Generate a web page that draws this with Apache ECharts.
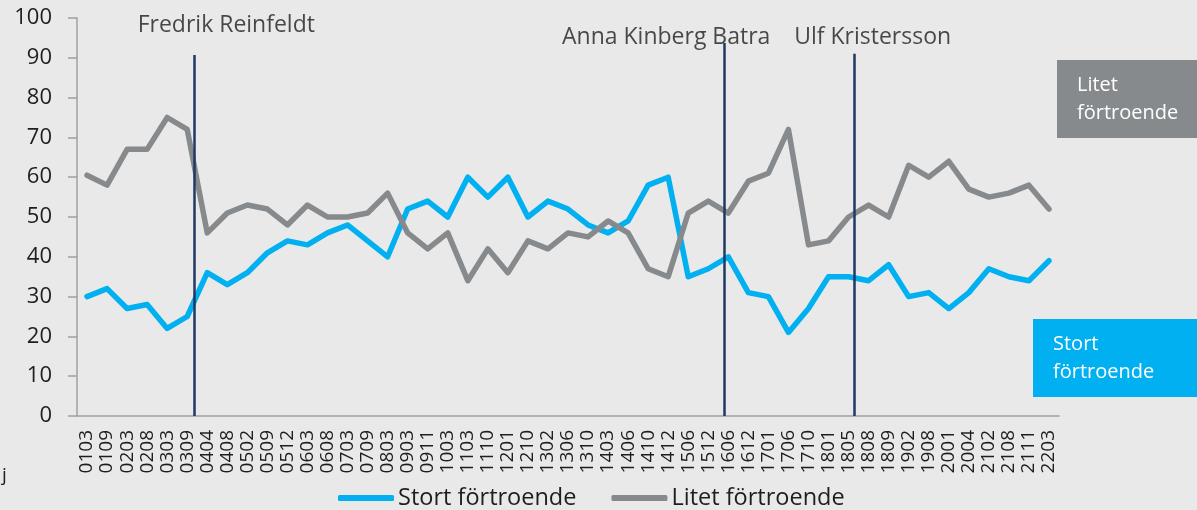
<!DOCTYPE html>
<html>
<head>
<meta charset="utf-8">
<script src="https://cdn.jsdelivr.net/npm/echarts@6/dist/echarts.min.js"></script>
<style>
  html, body { margin: 0; padding: 0; background: #e9e9e9; }
  #chart { width: 1197px; height: 510px; }
</style>
</head>
<body>
<div id="chart"></div>
<script>
// mätperioder (ÅÅMM)
const categories = ["0103","0109","0203","0208","0303","0309","0404","0408","0502","0509","0512","0603","0608","0703","0709","0803","0903","0911","1003","1103","1110","1201","1210","1302","1306","1310","1403","1406","1410","1412","1506","1512","1606","1612","1701","1706","1710","1801","1805","1808","1809","1902","1908","2001","2004","2102","2108","2111","2203"]
const stort = [30,32,27,28,22,25,36,33,36,41,44,43,46,48,44,40,52,54,50,60,55,60,50,54,52,48,46,49,58,60,35,37,40,31,30,21,27,35,35,34,38,30,31,27,31,37,35,34,39]
const litet = [60.5,58,67,67,75,72,46,51,53,52,48,53,50,50,51,56,46,42,46,34,42,36,44,42,46,45,49,46,37,35,51,54,51,59,61,72,43,44,50,53,50,63,60,64,57,55,56,58,52]
const yTicks = [0,10,20,30,40,50,60,70,80,90,100]

// partiledarbyten, position i kategorienheter
const leaders = ["Fredrik Reinfeldt", "Anna Kinberg Batra", "Ulf Kristersson"]
const leaderX = [5.85, 32.3, 38.8]
const leaderTop = [90.7, 93.7, 91]
const leaderLabelX = [7.45, 29.4, 39.7]
const leaderLabelY = [98.2, 95.2, 95.2]

const BLUE = "#00b0f0"
const GREY = "#878a8d"
const NAVY = "#1f3864"
const TEXT = "#1e1e1e"
const FONT = "'Open Sans', sans-serif"

const chart = echarts.init(document.getElementById("chart"))
const options = {
  backgroundColor: "#e9e9e9",
  animation: false,
  grid: { left: 77, right: 138, top: 18, bottom: 94 },
  legend: {
    data: [
      { name: "Stort förtroende", icon: "roundRect" },
      { name: "Litet förtroende", icon: "roundRect" }
    ],
    top: 486,
    left: 338,
    padding: 0,
    itemWidth: 56,
    itemHeight: 6,
    itemGap: 35,
    textStyle: { fontFamily: FONT, fontSize: 23.5, color: TEXT, padding: [0, 0, 0, -1] }
  },
  xAxis: [
    {
      type: "category",
      data: categories,
      boundaryGap: true,
      axisLine: { lineStyle: { color: "#a0a0a0", width: 1.5 } },
      axisTick: { interval: 0, length: 6, lineStyle: { color: "#a0a0a0", width: 1.5 } },
      axisLabel: { interval: 0, rotate: 90, margin: 14, fontFamily: FONT, fontSize: 19, color: TEXT }
    },
    { type: "value", min: 0, max: categories.length, show: false }
  ],
  yAxis: {
    type: "value",
    min: yTicks[0],
    max: yTicks[yTicks.length - 1],
    interval: 10,
    splitLine: { show: false },
    axisLine: { show: true, lineStyle: { color: "#a0a0a0", width: 1.5 } },
    axisTick: { show: true, length: 9, lineStyle: { color: "#a0a0a0", width: 1.5 } },
    axisLabel: { margin: 25, fontFamily: FONT, fontSize: 22, color: TEXT }
  },
  series: [
    {
      name: "Stort förtroende",
      type: "line",
      data: stort,
      symbol: "none",
      color: BLUE,
      lineStyle: { width: 5.5, color: BLUE, join: "round", cap: "round" }
    },
    {
      name: "Litet förtroende",
      type: "line",
      data: litet,
      symbol: "none",
      color: GREY,
      lineStyle: { width: 5.5, color: GREY, join: "round", cap: "round" }
    },
    {
      type: "line",
      xAxisIndex: 1,
      data: [],
      silent: true,
      markLine: {
        symbol: "none",
        silent: true,
        label: { show: false },
        lineStyle: { color: NAVY, width: 2.5, type: "solid" },
        data: leaderX.map((x, i) => [{ coord: [x, 0] }, { coord: [x, leaderTop[i]] }])
      }
    },
    {
      type: "scatter",
      xAxisIndex: 1,
      symbolSize: 0,
      silent: true,
      data: leaders.map((n, i) => [leaderLabelX[i], leaderLabelY[i], n]),
      label: {
        show: true,
        position: "inside",
        formatter: p => p.value[2],
        fontFamily: FONT,
        fontSize: 23,
        color: TEXT
      }
    }
  ],
  graphic: [
    { type: "rect", left: 1057, top: 60, shape: { width: 140, height: 78 }, style: { fill: GREY } },
    { type: "text", left: 1077, top: 71, style: { text: "Litet\nförtroende", fill: "#fff", font: "20px " + FONT, lineHeight: 28 } },
    { type: "rect", left: 1033, top: 319, shape: { width: 164, height: 78 }, style: { fill: BLUE } },
    { type: "text", left: 1053, top: 330, style: { text: "Stort\nförtroende", fill: "#fff", font: "20px " + FONT, lineHeight: 28 } },
    { type: "text", left: 2, top: 466, style: { text: "j", fill: TEXT, font: "19px " + FONT } }
  ]
}
chart.setOption(options)
</script>
</body>
</html>
